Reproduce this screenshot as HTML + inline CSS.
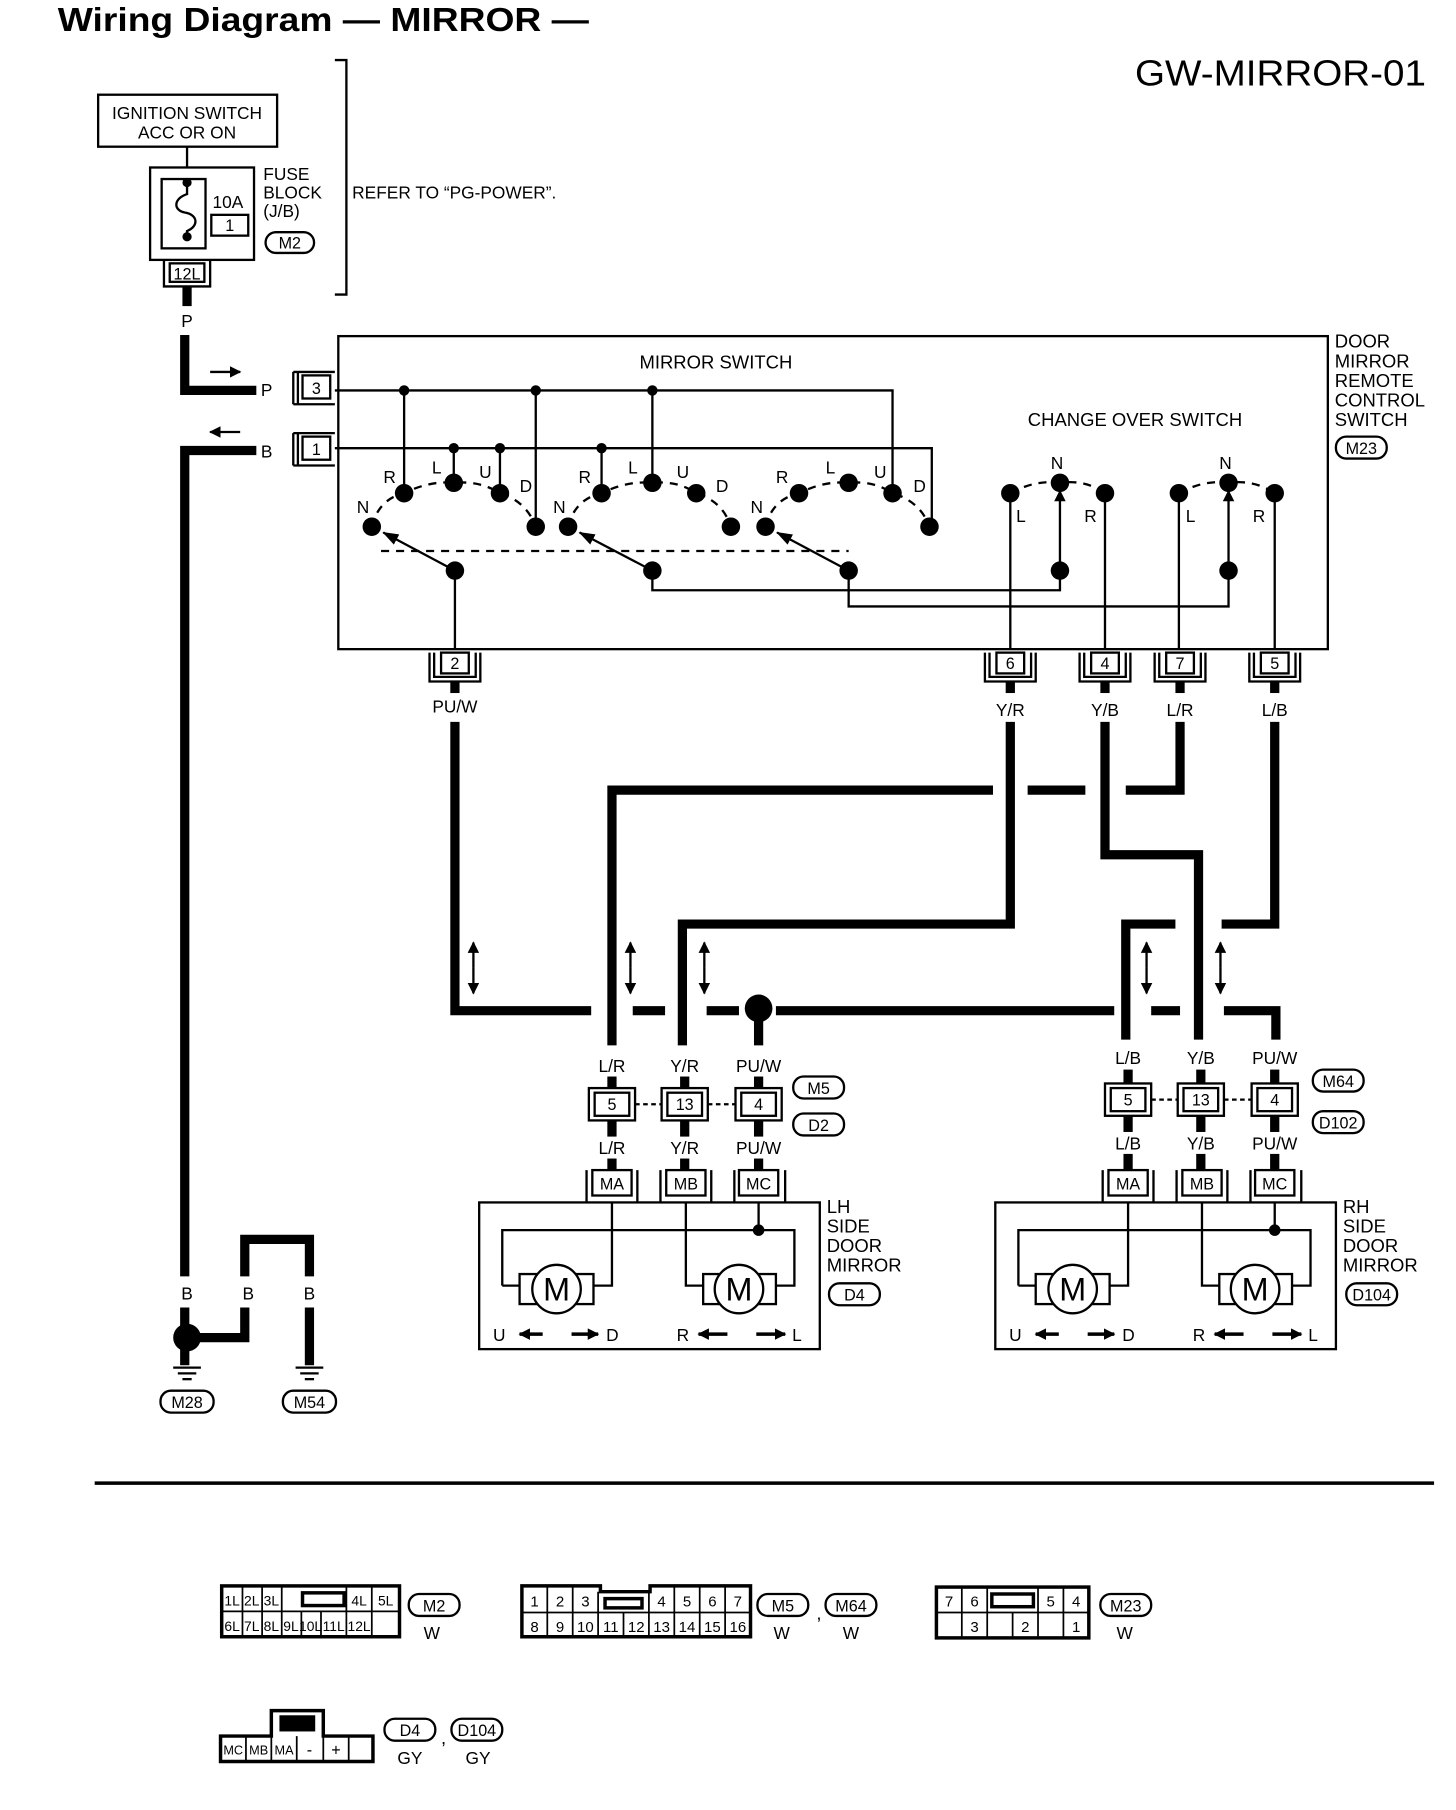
<!DOCTYPE html>
<html><head><meta charset="utf-8"><style>
html,body{margin:0;padding:0;background:#fff}
svg{display:block}
text{font-family:"Liberation Sans",sans-serif;fill:#000}
</style></head><body>
<svg width="1456" height="1810" viewBox="0 0 1261 1567" preserveAspectRatio="none" xmlns="http://www.w3.org/2000/svg">
<defs>
<marker id="ah" markerWidth="10" markerHeight="10" refX="9" refY="5" orient="auto" markerUnits="userSpaceOnUse"><path d="M0,0 L10,5 L0,10 Z" fill="#000"/></marker>
<marker id="ah2" markerWidth="14" markerHeight="10" refX="13" refY="5" orient="auto" markerUnits="userSpaceOnUse"><path d="M0,0 L14,5 L0,10 Z" fill="#000"/></marker>
</defs>
<rect width="1261" height="1567" fill="#fff"/>
<text x="50" y="27" font-size="29" font-weight="bold" textLength="460" lengthAdjust="spacingAndGlyphs">Wiring Diagram — MIRROR —</text>
<text x="983" y="74" font-size="31" textLength="252" lengthAdjust="spacingAndGlyphs">GW-MIRROR-01</text>

<rect x="85" y="82" width="155" height="45" fill="none" stroke="#000" stroke-width="2"/>
<text x="162" y="103" font-size="15" text-anchor="middle">IGNITION SWITCH</text>
<text x="162" y="120" font-size="15" text-anchor="middle">ACC OR ON</text>
<line x1="162" y1="127" x2="162" y2="145" stroke="#000" stroke-width="2"/>
<path d="M290,52 H300 V255 H290" fill="none" stroke="#000" stroke-width="2"/>
<text x="305" y="172" font-size="15">REFER TO “PG-POWER”.</text>
<rect x="130" y="145" width="90" height="80" fill="none" stroke="#000" stroke-width="2"/>
<rect x="140" y="155" width="38" height="60" fill="none" stroke="#000" stroke-width="2"/>
<circle cx="162" cy="158" r="4"/><circle cx="162" cy="205" r="4"/>
<path d="M162,158 V168 C150,172 150,182 160,184 C172,186 172,196 162,200 V205" fill="none" stroke="#000" stroke-width="2"/>
<text x="184" y="180" font-size="15">10A</text>
<rect x="183" y="186" width="32" height="18" fill="none" stroke="#000" stroke-width="2"/>
<text x="199" y="200" font-size="14" text-anchor="middle">1</text>
<text x="228" y="156" font-size="15">FUSE</text>
<text x="228" y="172" font-size="15">BLOCK</text>
<text x="228" y="188" font-size="15">(J/B)</text>
<rect x="230" y="201" width="42" height="18" rx="9" fill="none" stroke="#000" stroke-width="2"/>
<text x="251" y="215" font-size="14" text-anchor="middle">M2</text>
<path d="M142,226 V248 H182 V226" fill="none" stroke="#000" stroke-width="2"/>
<rect x="147" y="228" width="30" height="16" fill="none" stroke="#000" stroke-width="2"/>
<text x="162" y="242" font-size="14" text-anchor="middle">12L</text>
<line x1="162" y1="248" x2="162" y2="265" stroke="#000" stroke-width="8"/>
<text x="162" y="283" font-size="15" text-anchor="middle">P</text>

<path d="M160,290 V338 H222" fill="none" stroke="#000" stroke-width="8"/>
<line x1="182" y1="322" x2="208" y2="322" stroke="#000" stroke-width="2" marker-end="url(#ah)"/>
<text x="226" y="343" font-size="15">P</text>
<path d="M160,1105 V390 H222" fill="none" stroke="#000" stroke-width="8"/>
<line x1="208" y1="374" x2="182" y2="374" stroke="#000" stroke-width="2" marker-end="url(#ah)"/>
<text x="226" y="396" font-size="15">B</text>
<g fill="none" stroke="#000" stroke-width="2">
<path d="M254,322 H290 M254,350 H290 M254,322 V350 M258,322 V350"/>
<rect x="262" y="325" width="24" height="20"/>
<path d="M254,375 H290 M254,403 H290 M254,375 V403 M258,375 V403"/>
<rect x="262" y="378" width="24" height="20"/>
</g>
<text x="274" y="341" font-size="14" text-anchor="middle">3</text>
<text x="274" y="394" font-size="14" text-anchor="middle">1</text>

<rect x="293" y="291" width="857" height="271" fill="none" stroke="#000" stroke-width="2"/>
<text x="620" y="319" font-size="16" text-anchor="middle">MIRROR SWITCH</text>
<text x="983" y="369" font-size="16" text-anchor="middle">CHANGE OVER SWITCH</text>
<text x="1156" y="301" font-size="16">DOOR</text>
<text x="1156" y="318" font-size="16">MIRROR</text>
<text x="1156" y="335" font-size="16">REMOTE</text>
<text x="1156" y="352" font-size="16">CONTROL</text>
<text x="1156" y="369" font-size="16">SWITCH</text>
<rect x="1157" y="378" width="44" height="19" rx="9" fill="none" stroke="#000" stroke-width="2"/>
<text x="1179" y="393" font-size="14" text-anchor="middle">M23</text>

<g fill="none" stroke="#000" stroke-width="2">
<path d="M290,338 H773 V427"/>
<path d="M350,338 V427 M464,338 V456 M565,338 V418"/>
<path d="M290,388 H807 V456"/>
<path d="M393,388 V418 M433,388 V427 M521,388 V427"/>
<path d="M394,494 V562"/>
<path d="M565,494 V511 H918 V494"/>
<path d="M735,494 V525 H1064 V494"/>
<path d="M875,427 V562 M957,427 V562 M1021,427 V562 M1104,427 V562"/>
<path d="M918,494 V425" marker-end="url(#ah)"/>
<path d="M1064,494 V425" marker-end="url(#ah)"/>
<path d="M394,494 L332,461" marker-end="url(#ah2)"/>
<path d="M565,494 L502,461" marker-end="url(#ah2)"/>
<path d="M735,494 L673,461" marker-end="url(#ah2)"/>
<path stroke-dasharray="7,6" d="M330,477 H735"/>
<path stroke-dasharray="7,6" d="M322,456 Q328,432 350,427 Q372,416 393,418 Q416,416 433,427 Q456,434 464,456"/>
<path stroke-dasharray="7,6" d="M492,456 Q498,432 521,427 Q543,416 565,418 Q587,416 603,427 Q626,434 633,456"/>
<path stroke-dasharray="7,6" d="M663,456 Q669,432 692,427 Q714,416 735,418 Q757,416 773,427 Q797,434 805,456"/>
<path stroke-dasharray="7,6" d="M875,427 Q897,415 918,418 Q940,415 957,427"/>
<path stroke-dasharray="7,6" d="M1021,427 Q1043,415 1064,418 Q1086,415 1104,427"/>
</g>
<g>
<circle cx="350" cy="338" r="4.5"/><circle cx="464" cy="338" r="4.5"/><circle cx="565" cy="338" r="4.5"/>
<circle cx="393" cy="388" r="4.5"/><circle cx="433" cy="388" r="4.5"/><circle cx="521" cy="388" r="4.5"/>
<circle cx="322" cy="456" r="8"/><circle cx="350" cy="427" r="8"/><circle cx="393" cy="418" r="8"/><circle cx="433" cy="427" r="8"/><circle cx="464" cy="456" r="8"/>
<circle cx="492" cy="456" r="8"/><circle cx="521" cy="427" r="8"/><circle cx="565" cy="418" r="8"/><circle cx="603" cy="427" r="8"/><circle cx="633" cy="456" r="8"/>
<circle cx="663" cy="456" r="8"/><circle cx="692" cy="427" r="8"/><circle cx="735" cy="418" r="8"/><circle cx="773" cy="427" r="8"/><circle cx="805" cy="456" r="8"/>
<circle cx="394" cy="494" r="8"/><circle cx="565" cy="494" r="8"/><circle cx="735" cy="494" r="8"/>
<circle cx="875" cy="427" r="8"/><circle cx="918" cy="418" r="8"/><circle cx="957" cy="427" r="8"/>
<circle cx="1021" cy="427" r="8"/><circle cx="1064" cy="418" r="8"/><circle cx="1104" cy="427" r="8"/>
<circle cx="918" cy="494" r="8"/><circle cx="1064" cy="494" r="8"/>
</g>
<g font-size="15">
<text x="309" y="444">N</text><text x="332" y="418">R</text><text x="374" y="410">L</text><text x="415" y="414">U</text><text x="450" y="426">D</text>
<text x="479" y="444">N</text><text x="501" y="418">R</text><text x="544" y="410">L</text><text x="586" y="414">U</text><text x="620" y="426">D</text>
<text x="650" y="444">N</text><text x="672" y="418">R</text><text x="715" y="410">L</text><text x="757" y="414">U</text><text x="791" y="426">D</text>
<text x="880" y="452">L</text><text x="910" y="406">N</text><text x="939" y="452">R</text>
<text x="1027" y="452">L</text><text x="1056" y="406">N</text><text x="1085" y="452">R</text>
</g>
<g fill="none" stroke="#000" stroke-width="2">
<path d="M372,565 V590 H416 V565 M376,565 V586 H412 V565"/><rect x="382" y="565" width="24" height="18"/>
<path d="M853,565 V590 H897 V565 M857,565 V586 H893 V565"/><rect x="863" y="565" width="24" height="18"/>
<path d="M935,565 V590 H979 V565 M939,565 V586 H975 V565"/><rect x="945" y="565" width="24" height="18"/>
<path d="M1000,565 V590 H1044 V565 M1004,565 V586 H1040 V565"/><rect x="1010" y="565" width="24" height="18"/>
<path d="M1082,565 V590 H1126 V565 M1086,565 V586 H1122 V565"/><rect x="1092" y="565" width="24" height="18"/>
</g>
<g font-size="14" text-anchor="middle">
<text x="394" y="579">2</text><text x="875" y="579">6</text><text x="957" y="579">4</text><text x="1022" y="579">7</text><text x="1104" y="579">5</text>
</g>
<g stroke="#000" stroke-width="8">
<line x1="394" y1="590" x2="394" y2="600"/><line x1="875" y1="590" x2="875" y2="600"/><line x1="957" y1="590" x2="957" y2="600"/><line x1="1022" y1="590" x2="1022" y2="600"/><line x1="1104" y1="590" x2="1104" y2="600"/>
</g>
<g font-size="15" text-anchor="middle">
<text x="394" y="617">PU/W</text><text x="875" y="620">Y/R</text><text x="957" y="620">Y/B</text><text x="1022" y="620">L/R</text><text x="1104" y="620">L/B</text>
</g>

<g fill="none" stroke="#000" stroke-width="8">
<path d="M394,625 V875 H512"/>
<path d="M548,875 H576 M612,875 H640 M672,875 H965 M997,875 H1022 M1060,875 H1105 V900"/>
<path d="M657,875 V905"/>
<path d="M1022,625 V684 H975 M940,684 H890 M860,684 H530 V905"/>
<path d="M875,625 V800 H591 V905"/>
<path d="M957,625 V740 H1038 V900"/>
<path d="M1104,625 V800 H1058 M1018,800 H975 V900"/>
</g>
<circle cx="657" cy="873" r="12"/>
<g stroke="#000" stroke-width="2">
<line x1="410" y1="838" x2="410" y2="816" marker-end="url(#ah)"/><line x1="410" y1="838" x2="410" y2="860" marker-end="url(#ah)"/>
<line x1="546" y1="838" x2="546" y2="816" marker-end="url(#ah)"/><line x1="546" y1="838" x2="546" y2="860" marker-end="url(#ah)"/>
<line x1="610" y1="838" x2="610" y2="816" marker-end="url(#ah)"/><line x1="610" y1="838" x2="610" y2="860" marker-end="url(#ah)"/>
<line x1="993" y1="838" x2="993" y2="816" marker-end="url(#ah)"/><line x1="993" y1="838" x2="993" y2="860" marker-end="url(#ah)"/>
<line x1="1057" y1="838" x2="1057" y2="816" marker-end="url(#ah)"/><line x1="1057" y1="838" x2="1057" y2="860" marker-end="url(#ah)"/>
</g>

<g font-size="15" text-anchor="middle">
<text x="530" y="928">L/R</text><text x="593" y="928">Y/R</text><text x="657" y="928">PU/W</text>
<text x="530" y="999">L/R</text><text x="593" y="999">Y/R</text><text x="657" y="999">PU/W</text>
</g>
<g fill="none" stroke="#000" stroke-width="2">
<rect x="510" y="942" width="40" height="28"/><rect x="515" y="946" width="30" height="20"/>
<rect x="573" y="942" width="40" height="28"/><rect x="578" y="946" width="30" height="20"/>
<rect x="637" y="942" width="40" height="28"/><rect x="642" y="946" width="30" height="20"/>
<path d="M550,956 H573 M613,956 H637" stroke-dasharray="4,3"/>
</g>
<g font-size="14" text-anchor="middle"><text x="530" y="961">5</text><text x="593" y="961">13</text><text x="657" y="961">4</text></g>
<g stroke="#000" stroke-width="8">
<line x1="530" y1="932" x2="530" y2="942"/><line x1="593" y1="932" x2="593" y2="942"/><line x1="657" y1="932" x2="657" y2="942"/>
<line x1="530" y1="970" x2="530" y2="984"/><line x1="593" y1="970" x2="593" y2="984"/><line x1="657" y1="970" x2="657" y2="984"/>
<line x1="530" y1="1003" x2="530" y2="1013"/><line x1="593" y1="1003" x2="593" y2="1013"/><line x1="657" y1="1003" x2="657" y2="1013"/>
</g>
<rect x="687" y="932" width="44" height="19" rx="9" fill="none" stroke="#000" stroke-width="2"/><text x="709" y="947" font-size="14" text-anchor="middle">M5</text>
<rect x="687" y="964" width="44" height="19" rx="9" fill="none" stroke="#000" stroke-width="2"/><text x="709" y="979" font-size="14" text-anchor="middle">D2</text>

<g fill="none" stroke="#000" stroke-width="2">
<path d="M508,1041 V1013 M552,1041 V1013 M572,1041 V1013 M616,1041 V1013 M636,1041 V1013 M680,1041 V1013"/>
<rect x="513" y="1013" width="34" height="22"/><rect x="577" y="1013" width="34" height="22"/><rect x="640" y="1013" width="34" height="22"/>
<rect x="415" y="1041" width="295" height="127"/>
<path d="M530,1041 V1113 H514 M435,1113 V1065 H688 V1113 H672 M435,1113 H450 M594,1041 V1113 H609 M657,1041 V1065"/>
<rect x="450" y="1103" width="64" height="26"/><rect x="609" y="1103" width="63" height="26"/>
<circle cx="482" cy="1116" r="21" fill="#fff"/><circle cx="640" cy="1116" r="21" fill="#fff"/>
</g>
<circle cx="657" cy="1065" r="5"/>
<g font-size="14" text-anchor="middle"><text x="530" y="1030">MA</text><text x="594" y="1030">MB</text><text x="657" y="1030">MC</text></g>
<text x="482" y="1126" font-size="28" text-anchor="middle">M</text><text x="640" y="1126" font-size="28" text-anchor="middle">M</text>
<g font-size="15"><text x="427" y="1161">U</text><text x="525" y="1161">D</text><text x="586" y="1161">R</text><text x="686" y="1161">L</text></g>
<g stroke="#000" stroke-width="3"><line x1="470" y1="1155" x2="450" y2="1155" marker-end="url(#ah)"/><line x1="495" y1="1155" x2="518" y2="1155" marker-end="url(#ah)"/><line x1="630" y1="1155" x2="605" y2="1155" marker-end="url(#ah)"/><line x1="655" y1="1155" x2="680" y2="1155" marker-end="url(#ah)"/></g>
<g font-size="16"><text x="716" y="1050">LH</text><text x="716" y="1067">SIDE</text><text x="716" y="1084">DOOR</text><text x="716" y="1101">MIRROR</text></g>
<rect x="718" y="1111" width="44" height="19" rx="9" fill="none" stroke="#000" stroke-width="2"/><text x="740" y="1126" font-size="14" text-anchor="middle">D4</text>

<g font-size="15" text-anchor="middle">
<text x="977" y="921">L/B</text><text x="1040" y="921">Y/B</text><text x="1104" y="921">PU/W</text>
<text x="977" y="995">L/B</text><text x="1040" y="995">Y/B</text><text x="1104" y="995">PU/W</text>
</g>
<g fill="none" stroke="#000" stroke-width="2">
<rect x="957" y="938" width="40" height="28"/><rect x="962" y="942" width="30" height="20"/>
<rect x="1020" y="938" width="40" height="28"/><rect x="1025" y="942" width="30" height="20"/>
<rect x="1084" y="938" width="40" height="28"/><rect x="1089" y="942" width="30" height="20"/>
<path d="M997,952 H1020 M1060,952 H1084" stroke-dasharray="4,3"/>
</g>
<g font-size="14" text-anchor="middle"><text x="977" y="957">5</text><text x="1040" y="957">13</text><text x="1104" y="957">4</text></g>
<g stroke="#000" stroke-width="8">
<line x1="977" y1="926" x2="977" y2="938"/><line x1="1040" y1="926" x2="1040" y2="938"/><line x1="1104" y1="926" x2="1104" y2="938"/>
<line x1="977" y1="966" x2="977" y2="980"/><line x1="1040" y1="966" x2="1040" y2="980"/><line x1="1104" y1="966" x2="1104" y2="980"/>
<line x1="977" y1="999" x2="977" y2="1013"/><line x1="1040" y1="999" x2="1040" y2="1013"/><line x1="1104" y1="999" x2="1104" y2="1013"/>
</g>
<rect x="1137" y="926" width="44" height="19" rx="9" fill="none" stroke="#000" stroke-width="2"/><text x="1159" y="941" font-size="14" text-anchor="middle">M64</text>
<rect x="1137" y="962" width="44" height="19" rx="9" fill="none" stroke="#000" stroke-width="2"/><text x="1159" y="977" font-size="14" text-anchor="middle">D102</text>

<g fill="none" stroke="#000" stroke-width="2">
<path d="M955,1041 V1013 M999,1041 V1013 M1019,1041 V1013 M1063,1041 V1013 M1083,1041 V1013 M1127,1041 V1013"/>
<rect x="960" y="1013" width="34" height="22"/><rect x="1024" y="1013" width="34" height="22"/><rect x="1087" y="1013" width="34" height="22"/>
<rect x="862" y="1041" width="295" height="127"/>
<path d="M977,1041 V1113 H961 M882,1113 V1065 H1135 V1113 H1119 M882,1113 H897 M1041,1041 V1113 H1056 M1104,1041 V1065"/>
<rect x="897" y="1103" width="64" height="26"/><rect x="1056" y="1103" width="63" height="26"/>
<circle cx="929" cy="1116" r="21" fill="#fff"/><circle cx="1087" cy="1116" r="21" fill="#fff"/>
</g>
<circle cx="1104" cy="1065" r="5"/>
<g font-size="14" text-anchor="middle"><text x="977" y="1030">MA</text><text x="1041" y="1030">MB</text><text x="1104" y="1030">MC</text></g>
<text x="929" y="1126" font-size="28" text-anchor="middle">M</text><text x="1087" y="1126" font-size="28" text-anchor="middle">M</text>
<g font-size="15"><text x="874" y="1161">U</text><text x="972" y="1161">D</text><text x="1033" y="1161">R</text><text x="1133" y="1161">L</text></g>
<g stroke="#000" stroke-width="3"><line x1="917" y1="1155" x2="897" y2="1155" marker-end="url(#ah)"/><line x1="942" y1="1155" x2="965" y2="1155" marker-end="url(#ah)"/><line x1="1077" y1="1155" x2="1052" y2="1155" marker-end="url(#ah)"/><line x1="1102" y1="1155" x2="1127" y2="1155" marker-end="url(#ah)"/></g>
<g font-size="16"><text x="1163" y="1050">RH</text><text x="1163" y="1067">SIDE</text><text x="1163" y="1084">DOOR</text><text x="1163" y="1101">MIRROR</text></g>
<rect x="1166" y="1111" width="44" height="19" rx="9" fill="none" stroke="#000" stroke-width="2"/><text x="1188" y="1126" font-size="14" text-anchor="middle">D104</text>

<g fill="none" stroke="#000" stroke-width="8">
<path d="M162,1158 H212 V1132"/>
<path d="M212,1105 V1073 H268 V1105"/>
<path d="M268,1132 V1182"/>
<path d="M160,1132 V1182"/>
</g>
<circle cx="162" cy="1158" r="12"/>
<g stroke="#000" stroke-width="2">
<line x1="150" y1="1184" x2="174" y2="1184"/><line x1="154" y1="1189" x2="170" y2="1189"/><line x1="158" y1="1194" x2="166" y2="1194"/>
<line x1="256" y1="1184" x2="280" y2="1184"/><line x1="260" y1="1189" x2="276" y2="1189"/><line x1="264" y1="1194" x2="272" y2="1194"/>
</g>
<g font-size="15" text-anchor="middle"><text x="162" y="1125">B</text><text x="215" y="1125">B</text><text x="268" y="1125">B</text></g>
<rect x="139" y="1204" width="46" height="19" rx="9" fill="none" stroke="#000" stroke-width="2"/><text x="162" y="1219" font-size="14" text-anchor="middle">M28</text>
<rect x="245" y="1204" width="46" height="19" rx="9" fill="none" stroke="#000" stroke-width="2"/><text x="268" y="1219" font-size="14" text-anchor="middle">M54</text>

<line x1="82" y1="1284" x2="1242" y2="1284" stroke="#000" stroke-width="3"/>

<rect x="192" y="1373" width="154" height="44" fill="none" stroke="#000" stroke-width="3"/>
<g fill="none" stroke="#000" stroke-width="1.5">
<path d="M192,1395 H346"/>
<path d="M210,1373 V1417 M227,1373 V1417 M244,1373 V1417 M261,1395 V1417 M278,1395 V1417 M300,1373 V1417 M322,1373 V1417"/>
</g>
<rect x="262" y="1379" width="36" height="11" fill="none" stroke="#000" stroke-width="3"/>
<g font-size="12" text-anchor="middle">
<text x="201" y="1390">1L</text><text x="218" y="1390">2L</text><text x="235" y="1390">3L</text><text x="311" y="1390">4L</text><text x="334" y="1390">5L</text>
<text x="201" y="1412">6L</text><text x="218" y="1412">7L</text><text x="235" y="1412">8L</text><text x="252" y="1412">9L</text><text x="269" y="1412">10L</text><text x="289" y="1412">11L</text><text x="311" y="1412">12L</text>
</g>
<rect x="354" y="1380" width="44" height="19" rx="9" fill="none" stroke="#000" stroke-width="2"/><text x="376" y="1395" font-size="14" text-anchor="middle">M2</text>
<text x="374" y="1419" font-size="15" text-anchor="middle">W</text>

<path d="M452,1373 H520 V1378 H563 V1373 H650 V1417 H452 Z" fill="none" stroke="#000" stroke-width="3"/>
<g fill="none" stroke="#000" stroke-width="1.5">
<path d="M452,1396 H650"/>
<path d="M474,1373 V1417 M496,1373 V1417 M518,1378 V1417 M540,1396 V1417 M562,1378 V1417 M584,1373 V1417 M606,1373 V1417 M628,1373 V1417"/>
</g>
<rect x="524" y="1384" width="32" height="8" fill="none" stroke="#000" stroke-width="3"/>
<g font-size="13" text-anchor="middle">
<text x="463" y="1391">1</text><text x="485" y="1391">2</text><text x="507" y="1391">3</text><text x="573" y="1391">4</text><text x="595" y="1391">5</text><text x="617" y="1391">6</text><text x="639" y="1391">7</text>
<text x="463" y="1413">8</text><text x="485" y="1413">9</text><text x="507" y="1413">10</text><text x="529" y="1413">11</text><text x="551" y="1413">12</text><text x="573" y="1413">13</text><text x="595" y="1413">14</text><text x="617" y="1413">15</text><text x="639" y="1413">16</text>
</g>
<rect x="656" y="1380" width="44" height="19" rx="9" fill="none" stroke="#000" stroke-width="2"/><text x="678" y="1395" font-size="14" text-anchor="middle">M5</text>
<text x="707" y="1402" font-size="16">,</text>
<rect x="715" y="1380" width="44" height="19" rx="9" fill="none" stroke="#000" stroke-width="2"/><text x="737" y="1395" font-size="14" text-anchor="middle">M64</text>
<text x="677" y="1419" font-size="15" text-anchor="middle">W</text><text x="737" y="1419" font-size="15" text-anchor="middle">W</text>

<rect x="811" y="1374" width="132" height="44" fill="none" stroke="#000" stroke-width="3"/>
<g fill="none" stroke="#000" stroke-width="1.5">
<path d="M811,1396 H943 M833,1374 V1418 M855,1374 V1418 M877,1396 V1418 M899,1374 V1418 M921,1374 V1418"/>
</g>
<rect x="859" y="1380" width="36" height="11" fill="none" stroke="#000" stroke-width="3"/>
<g font-size="13" text-anchor="middle">
<text x="822" y="1391">7</text><text x="844" y="1391">6</text><text x="910" y="1391">5</text><text x="932" y="1391">4</text>
<text x="844" y="1413">3</text><text x="888" y="1413">2</text><text x="932" y="1413">1</text>
</g>
<rect x="953" y="1380" width="44" height="19" rx="9" fill="none" stroke="#000" stroke-width="2"/><text x="975" y="1395" font-size="14" text-anchor="middle">M23</text>
<text x="974" y="1419" font-size="15" text-anchor="middle">W</text>

<path d="M191,1503 H235 V1481 H280 V1503 H323 V1525 H191 Z" fill="none" stroke="#000" stroke-width="3"/>
<rect x="242" y="1485" width="31" height="14" fill="#000"/>
<g fill="none" stroke="#000" stroke-width="1.5">
<path d="M213,1503 V1525 M235,1503 V1525 M257,1503 V1525 M280,1503 V1525 M302,1503 V1525"/>
</g>
<g font-size="11" text-anchor="middle">
<text x="202" y="1519">MC</text><text x="224" y="1519">MB</text><text x="246" y="1519">MA</text><text x="268" y="1520" font-size="14">-</text><text x="291" y="1520" font-size="14">+</text>
</g>
<rect x="333" y="1488" width="44" height="19" rx="9" fill="none" stroke="#000" stroke-width="2"/><text x="355" y="1503" font-size="14" text-anchor="middle">D4</text>
<text x="382" y="1510" font-size="16">,</text>
<rect x="391" y="1488" width="44" height="19" rx="9" fill="none" stroke="#000" stroke-width="2"/><text x="413" y="1503" font-size="14" text-anchor="middle">D104</text>
<text x="355" y="1527" font-size="15" text-anchor="middle">GY</text><text x="414" y="1527" font-size="15" text-anchor="middle">GY</text>
</svg>
</body></html>
